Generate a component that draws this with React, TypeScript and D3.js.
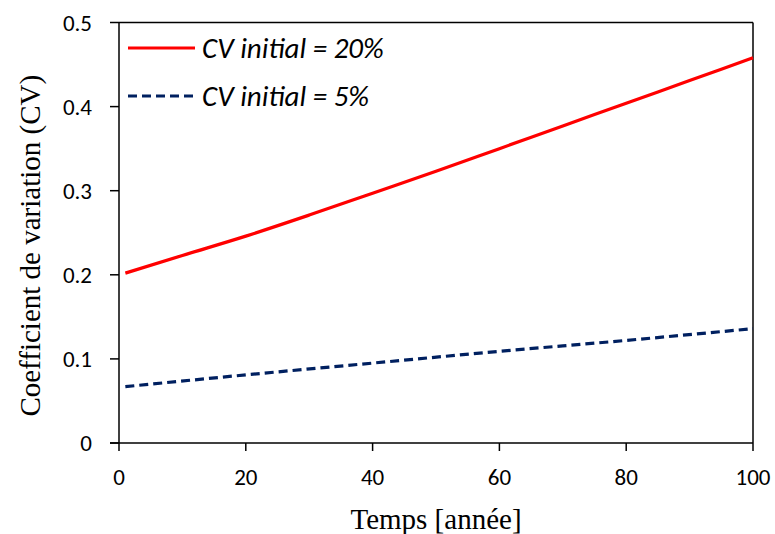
import React from "react";
import * as d3 from "d3";

const years20 = [1, 10, 20, 30, 40, 50, 60, 70, 80, 90, 100];
const cv20 = [0.202, 0.223, 0.246, 0.271, 0.297, 0.323, 0.35, 0.377, 0.404, 0.431, 0.458];
const years5 = [1, 20, 40, 60, 80, 100];
const cv5 = [0.067, 0.081, 0.095, 0.109, 0.122, 0.136];
const xTicks = [0, 20, 40, 60, 80, 100];
const yTicks = [0, 0.1, 0.2, 0.3, 0.4, 0.5];
const legendLabels = ["CV initial = 20%", "CV initial = 5%"];

export default function App() {
  const W = 775, H = 534;
  const L = 119, R = 753, T = 22.5, B = 443;
  const x = d3.scaleLinear().domain([0, 100]).range([L, R]);
  const y = d3.scaleLinear().domain([0, 0.5]).range([B, T]);
  const line = d3.line<[number, number]>().x(d => x(d[0])).y(d => y(d[1])).curve(d3.curveMonotoneX);
  const d20 = line(years20.map((t, i) => [t, cv20[i]] as [number, number]));
  const d5 = line(years5.map((t, i) => [t, cv5[i]] as [number, number]));
  const sans = "Carlito, Calibri, Lato, 'Liberation Sans', sans-serif";
  const serif = "'Liberation Serif', 'Times New Roman', serif";
  return (
    <svg width={W} height={H} style={{ position: "absolute", left: 0, top: 0, background: "#fff" }}>
      <rect x={0} y={0} width={W} height={H} fill="#fff" />
      <line x1={L} y1={T} x2={R} y2={T} stroke="#000" strokeWidth={1.5} />
      <line x1={R} y1={T} x2={R} y2={B} stroke="#000" strokeWidth={1.5} />
      <line x1={L} y1={T} x2={L} y2={B} stroke="#000" strokeWidth={1.5} />
      <line x1={L - 9} y1={B} x2={R} y2={B} stroke="#000" strokeWidth={1.5} />
      {yTicks.map(v => (
        <g key={"y" + v}>
          <line x1={L - 9} x2={L} y1={y(v)} y2={y(v)} stroke="#000" strokeWidth={1.5} />
          <text x={L - 27} y={y(v)} dy="0.36em" textAnchor="end" fontFamily={sans} fontSize={23} fill="#000">
            {v === 0 ? "0" : v.toFixed(1)}
          </text>
        </g>
      ))}
      {xTicks.map(v => (
        <g key={"x" + v}>
          <line x1={x(v)} x2={x(v)} y1={B} y2={B + 8} stroke="#000" strokeWidth={1.5} />
          <text x={x(v)} y={485} textAnchor="middle" fontFamily={sans} fontSize={23} fill="#000">
            {v}
          </text>
        </g>
      ))}
      <path d={d20 || ""} fill="none" stroke="#ff0000" strokeWidth={3.2} />
      <path d={d5 || ""} fill="none" stroke="#002060" strokeWidth={3.2} strokeDasharray="9 5" />
      <line x1={128} x2={195} y1={48} y2={48} stroke="#ff0000" strokeWidth={3.2} />
      <text x={202} y={58} fontFamily={sans} fontStyle="italic" fontSize={29} fill="#000">{legendLabels[0]}</text>
      <line x1={128} x2={195} y1={96} y2={96} stroke="#002060" strokeWidth={3.2} strokeDasharray="9 5" />
      <text x={202} y={106} fontFamily={sans} fontStyle="italic" fontSize={29} fill="#000">{legendLabels[1]}</text>
      <text x={436} y={529} textAnchor="middle" fontFamily={serif} fontSize={29} fill="#000">Temps [année]</text>
      <text transform={`translate(40, ${(T + B) / 2 + 13}) rotate(-90)`} textAnchor="middle" fontFamily={serif} fontSize={29} fill="#000">
        Coefficient de variation (CV)
      </text>
    </svg>
  );
}
